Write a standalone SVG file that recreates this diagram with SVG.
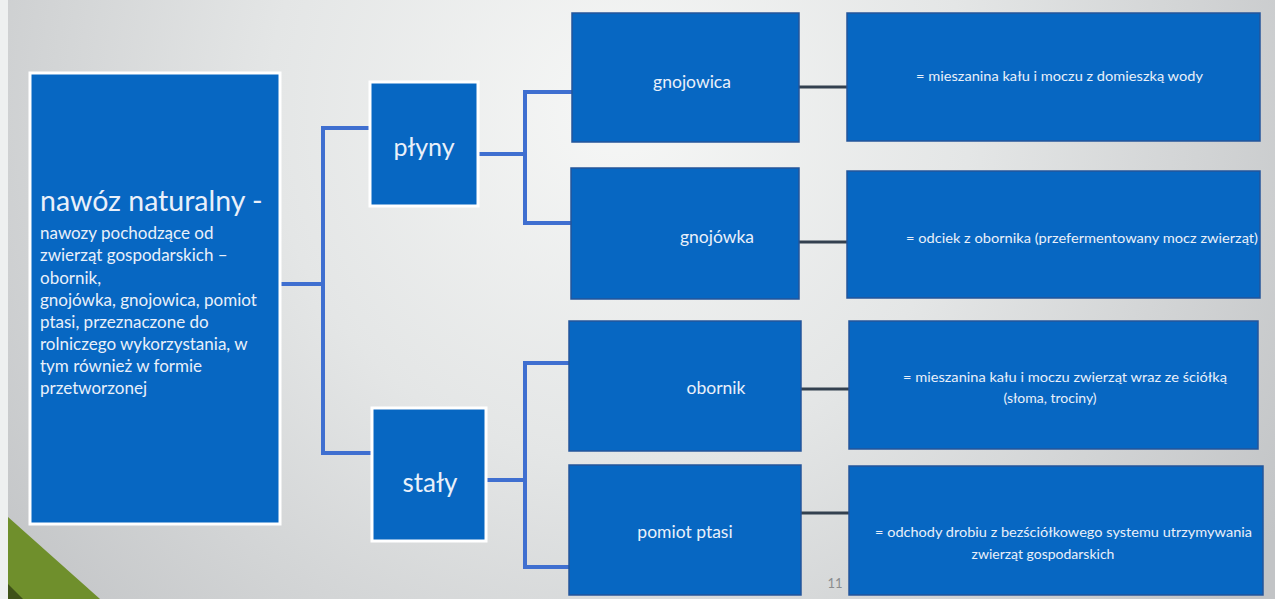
<svg xmlns="http://www.w3.org/2000/svg" width="1275" height="599" viewBox="0 0 1275 599">
  <defs>
    <radialGradient id="bg" cx="620" cy="110" r="780" gradientUnits="userSpaceOnUse">
      <stop offset="0" stop-color="#f6f7f6"/>
      <stop offset="0.45" stop-color="#e4e6e6"/>
      <stop offset="1" stop-color="#c2c4c6"/>
    </radialGradient>
    <style>
      .box { fill: #0767c2; stroke: #24559a; stroke-width: 1.5; }
      .wbox { fill: #0767c2; stroke: #ffffff; stroke-width: 3; }
      .t { font-family: Lato, "Open Sans", "Liberation Sans", sans-serif; fill: #e9f0fa; }
      .blue { fill: none; stroke: #3f6fd0; stroke-width: 4; stroke-linejoin: miter; }
      .dark { fill: none; stroke: #33404f; stroke-width: 3; }
    </style>
  </defs>

  <rect x="0" y="0" width="1275" height="599" fill="url(#bg)"/>
  <rect x="0" y="0" width="8" height="599" fill="#eef0f0"/>
  <polygon points="8,517 100,599 8,599" fill="#6f8f2c"/>
  <polygon points="8,584 23,599 8,599" fill="#3f5218"/>

  <g id="connectors">
    <polyline class="blue" points="280,284 323,284"/>
    <polyline class="blue" points="370,128 323,128 323,453 372,453"/>
    <polyline class="blue" points="478,154 525,154"/>
    <polyline class="blue" points="572,92 525,92 525,223 571,223"/>
    <polyline class="blue" points="486,480 525,480"/>
    <polyline class="blue" points="569,363 525,363 525,567 569,567"/>
    <line class="dark" x1="799" y1="87" x2="848" y2="87"/>
    <line class="dark" x1="799" y1="242" x2="848" y2="242"/>
    <line class="dark" x1="801" y1="389" x2="850" y2="389"/>
    <line class="dark" x1="801" y1="513" x2="850" y2="513"/>
  </g>

  <g id="node-nawoz">
    <rect class="wbox" x="30" y="73" width="250" height="451"/>
    <text class="t" x="40" y="211" font-size="28.5">nawóz naturalny -</text>
    <g font-size="17">
      <text class="t" x="40" y="239">nawozy pochodzące od</text>
      <text class="t" x="40" y="261">zwierząt gospodarskich –</text>
      <text class="t" x="40" y="284">obornik,</text>
      <text class="t" x="40" y="306">gnojówka, gnojowica, pomiot</text>
      <text class="t" x="40" y="328">ptasi, przeznaczone do</text>
      <text class="t" x="40" y="350">rolniczego wykorzystania, w</text>
      <text class="t" x="40" y="372">tym również w formie</text>
      <text class="t" x="40" y="394">przetworzonej</text>
    </g>
  </g>

  <g id="node-plyny">
    <rect class="wbox" x="370" y="82" width="108" height="124"/>
    <text class="t" x="424" y="156" font-size="25" text-anchor="middle">płyny</text>
  </g>

  <g id="node-staly">
    <rect class="wbox" x="372" y="408" width="114" height="133"/>
    <text class="t" x="430" y="492" font-size="26" text-anchor="middle">stały</text>
  </g>

  <g id="node-gnojowica">
    <rect class="box" x="572" y="13" width="227" height="129"/>
    <text class="t" x="692" y="88" font-size="17.5" text-anchor="middle">gnojowica</text>
  </g>

  <g id="node-gnojowka">
    <rect class="box" x="571" y="168" width="228" height="131"/>
    <text class="t" x="717" y="243" font-size="17.5" text-anchor="middle">gnojówka</text>
  </g>

  <g id="node-obornik">
    <rect class="box" x="569" y="321" width="232" height="130"/>
    <text class="t" x="716" y="394" font-size="17.5" text-anchor="middle">obornik</text>
  </g>

  <g id="node-pomiot">
    <rect class="box" x="569" y="465" width="232" height="130"/>
    <text class="t" x="685" y="538" font-size="17.5" text-anchor="middle">pomiot ptasi</text>
  </g>

  <text x="835" y="588" font-family="Lato, 'Liberation Sans', sans-serif" font-size="13" fill="#8a8c8e" text-anchor="middle">11</text>

  <g id="node-def-gnojowica">
    <rect class="box" x="847" y="13" width="413" height="128"/>
    <text class="t" x="916" y="81" font-size="14.3" textLength="287" lengthAdjust="spacingAndGlyphs">= mieszanina kału i moczu z domieszką wody</text>
  </g>

  <g id="node-def-gnojowka">
    <rect class="box" x="847" y="171" width="413" height="127"/>
    <text class="t" x="906" y="243" font-size="14" textLength="352" lengthAdjust="spacingAndGlyphs">= odciek z obornika (przefermentowany mocz zwierząt)</text>
  </g>

  <g id="node-def-obornik">
    <rect class="box" x="849" y="321" width="409" height="128"/>
    <text class="t" x="903" y="382" font-size="14" textLength="324" lengthAdjust="spacingAndGlyphs">= mieszanina kału i moczu zwierząt wraz ze ściółką</text>
    <text class="t" x="1050" y="403" font-size="14" text-anchor="middle">(słoma, trociny)</text>
  </g>

  <g id="node-def-pomiot">
    <rect class="box" x="849" y="466" width="414" height="129"/>
    <text class="t" x="875" y="537" font-size="14" textLength="377" lengthAdjust="spacingAndGlyphs">= odchody drobiu z bezściółkowego systemu utrzymywania</text>
    <text class="t" x="1043" y="559" font-size="14" text-anchor="middle">zwierząt gospodarskich</text>
  </g>
</svg>
